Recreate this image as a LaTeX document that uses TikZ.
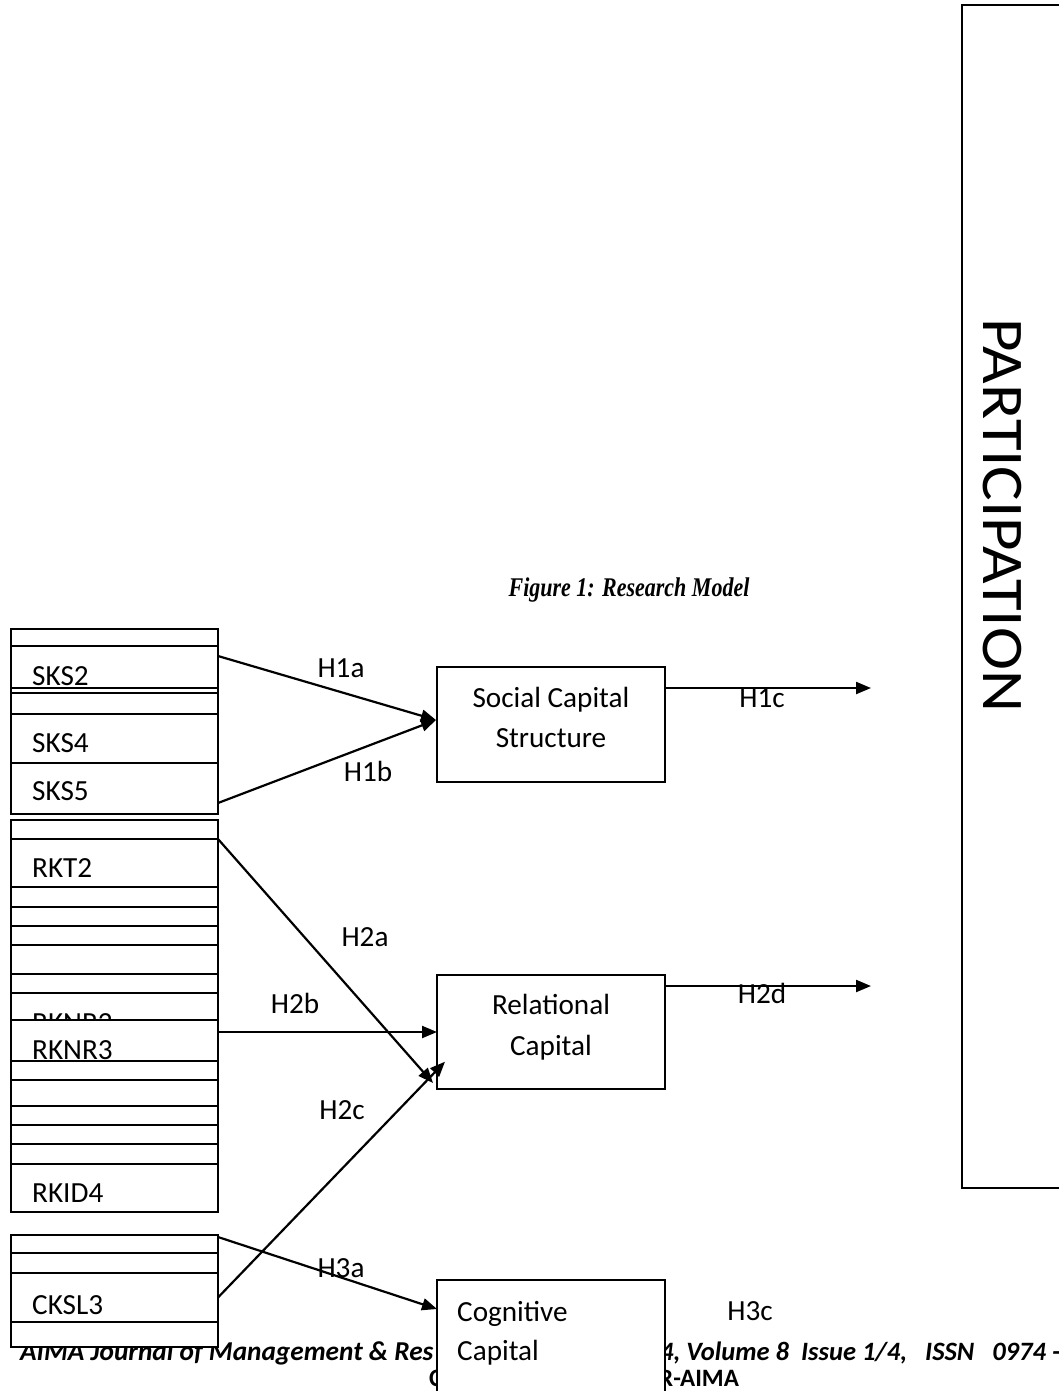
\documentclass[tikz,border=0pt]{standalone}
\usepackage{fontspec}
\setmainfont{Carlito}
\newfontfamily\capfont{Liberation Serif}
\usetikzlibrary{arrows.meta,calc}
\newcommand\bodyfont{\fontsize{29.2}{35}\selectfont}
\newcommand\footfont{\fontsize{27.3}{30}\selectfont\bfseries\itshape}
\tikzset{
  grp/.style={draw, fill=white, line width=1.5pt, minimum width=207pt, inner sep=0pt, outer sep=0pt},
  rowbox/.style={draw, fill=white, line width=1.3pt, minimum width=207pt, inner sep=0pt, outer sep=0pt},
  mainbox/.style={draw, fill=white, line width=1.5pt, minimum width=228pt, inner sep=0pt, outer sep=0pt},
  rowtxt/.style={anchor=base west, inner sep=0pt, font=\bodyfont},
  lbl/.style={anchor=base, inner sep=0pt, font=\bodyfont},
  lblw/.style={anchor=base west, inner sep=0pt, font=\bodyfont},
  foot/.style={anchor=base west, inner sep=0pt, font=\footfont},
  conn/.style={line width=2.2pt, -{Triangle[length=15pt,width=12pt]}},
}
\newcommand\mkrow[3]{\node[rowbox, minimum height={(#3-#2)*1pt}] (#1) at (114.5,{(#2+#3)/2}) {};}
\newcommand\mkrowt[5]{\mkrow{#1}{#2}{#3}\node[rowtxt] (#1t) at (32,#5) {#4};}
\begin{document}
\begin{tikzpicture}[x=1pt,y=-1pt]
\useasboundingbox (0,0) rectangle (1059,1391);
% footer (partly covered)
\node[foot] (ft1) at (20,1360) {AIMA Journal of Management \& Res};
\node[anchor=base west, inner sep=0pt, font=\fontsize{26.5}{30}\selectfont\bfseries\itshape] (ft2) at (660,1360) {4, Volume 8\ \ Issue 1/4,\ \ \ ISSN\ \ \ 0974 -};
\node[anchor=base west, inner sep=0pt, font=\fontsize{25}{30}\selectfont\bfseries] (ft3) at (429,1386) {C};
\node[anchor=base west, inner sep=0pt, font=\fontsize{25}{30}\selectfont\bfseries] (ft4) at (659,1386) {R-AIMA};
% caption
\node[anchor=base, inner sep=0pt] (cap) at (629,596) {\scalebox{0.815}[1]{\capfont\bfseries\itshape\fontsize{27}{30}\selectfont Figure 1: Research Model}};
% PARTICIPATION box
\node[draw, line width=1.5pt, minimum width=160pt, minimum height=1183pt, inner sep=0pt, outer sep=0pt] (part) at (1042,596.5) {};
\node[rotate=-90, anchor=base, inner sep=0pt] (partt) at (983,515) {\scalebox{1.1}[1]{\fontsize{59}{66}\selectfont PARTICIPATION}};
% SKS group
\node[grp, minimum height=185pt] (skg) at (114.5,721.5) {};
\mkrow{sk1}{629}{646}
\mkrowt{sks2}{646}{688}{SKS2}{685}
\mkrow{sk3}{693}{714}
\mkrowt{sks4}{714}{763}{SKS4}{752}
\mkrowt{sks5}{763}{814}{SKS5}{800}
% RK group
\node[grp, minimum height=392pt] (rkg) at (114.5,1016) {};
\mkrow{rk1}{820}{839}
\mkrowt{rkt2}{839}{887}{RKT2}{877}
\mkrow{rk3}{887}{907}
\mkrow{rk4}{907}{926}
\mkrow{rk5}{926}{945}
\mkrow{rk6}{945}{974}
\mkrow{rk7}{974}{993}
\mkrowt{rknr2}{993}{1020}{RKNR2}{1032}
\mkrowt{rknr3}{1020}{1061}{RKNR3}{1059}
\mkrow{rk10}{1061}{1080}
\mkrow{rk11}{1080}{1106}
\mkrow{rk12}{1106}{1125}
\mkrow{rk13}{1125}{1144}
\mkrow{rk14}{1144}{1164}
\mkrowt{rkid4}{1164}{1212}{RKID4}{1202}
% CK group
\node[grp, minimum height=112pt] (ckg) at (114.5,1291) {};
\mkrow{ck1}{1235}{1253}
\mkrow{ck2}{1253}{1273}
\mkrowt{cksl3}{1273}{1322}{CKSL3}{1314}
\mkrow{ck4}{1322}{1347}
% main construct boxes
\node[mainbox, minimum height=115pt] (scs) at (551,724.5) {};
\node[lbl] (scs1) at (551,707) {Social Capital};
\node[lbl] (scs2) at (551,747) {Structure};
\node[mainbox, minimum height=114pt] (rc) at (551,1032) {};
\node[lbl] (rc1) at (551,1014) {Relational};
\node[lbl] (rc2) at (551,1055) {Capital};
\node[mainbox, minimum height=140pt] (cc) at (551,1350) {};
\node[lblw] (cc1) at (457,1321) {Cognitive};
\node[lblw] (cc2) at (457,1360) {Capital};
% free ends
\coordinate (e1) at (871,688);
\coordinate (e2) at (871,986);
% connectors
\draw[conn] ([yshift=-10pt]sks2.north east) -- ([xshift=-1pt,yshift=4.5pt]scs.west);
\draw[conn] ([yshift=11pt]sks5.south east) -- ([xshift=-1pt,yshift=4.5pt]scs.west);
\draw[conn] ([yshift=-21pt]scs.north east) -- (e1);
\draw[conn] (rkt2.north east) -- ([shift={(-4pt,6pt)}]rc.south west);
\draw[conn] (rknr3.east |- rc.west) -- (rc.west);
\draw[conn] (cksl3.east) -- ([shift={(8pt,-29.7pt)}]rc.west);
\draw[conn] ([yshift=-11pt]rc.north east) -- (e2);
\draw[conn] ([yshift=-2pt]ck1.north east) -- ([yshift=-29pt]cc.north west);
% labels
\node[lbl] (h1a) at (341,677) {H1a};
\node[lbl] (h1b) at (368,781) {H1b};
\node[lbl] (h1c) at (762,707.5) {H1c};
\node[lbl] (h2a) at (365,946) {H2a};
\node[lbl] (h2b) at (295,1013) {H2b};
\node[lbl] (h2c) at (342,1119) {H2c};
\node[lbl] (h2d) at (762,1003) {H2d};
\node[lbl] (h3a) at (341,1277) {H3a};
\node[lbl] (h3c) at (750,1320) {H3c};
\end{tikzpicture}
\end{document}
